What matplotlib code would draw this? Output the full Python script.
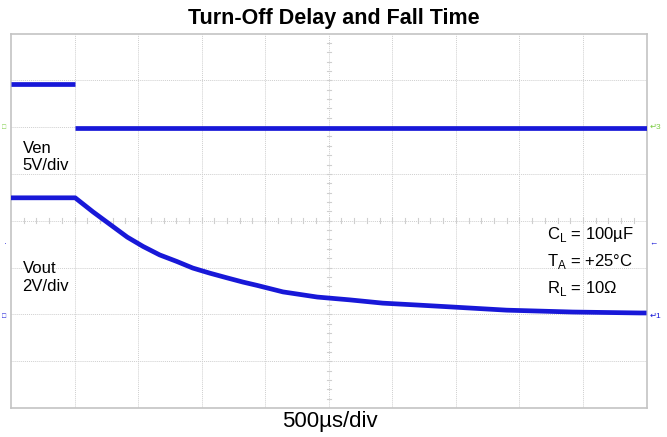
import numpy as np
import matplotlib.pyplot as plt

plt.rcParams['font.family'] = ['Liberation Sans', 'DejaVu Sans']

# screen positions in divisions (x: 500us/div, y: 8 divisions)
ven_x = [0.0, 1.0, np.nan, 1.0, 10.0]
ven_y = [6.92, 6.92, np.nan, 5.99, 5.99]

vout_x = [0.0, 1.01, 1.29, 1.56, 1.83, 2.08, 2.34, 2.61, 2.86, 3.13, 3.40,
          3.65, 3.87, 4.28, 4.82, 5.33, 5.85, 6.39, 6.91, 7.80, 8.84, 9.90, 10.0]
vout_y = [4.49, 4.49, 4.19, 3.92, 3.65, 3.45, 3.27, 3.13, 2.99, 2.88, 2.78,
          2.69, 2.62, 2.48, 2.37, 2.31, 2.24, 2.20, 2.16, 2.09, 2.05, 2.03, 2.03]

trace = '#1818d8'
gridc = '#cfcfcf'

fig = plt.figure(figsize=(6.67, 4.37), dpi=100)
ax = fig.add_axes([11 / 667, 29 / 437, 635.5 / 667, 374.5 / 437])
ax.set_xlim(0, 10)
ax.set_ylim(0, 8)

# grid
for i in range(1, 10):
    ax.axvline(i, color=gridc, lw=0.7, ls=(0, (1, 1)), zorder=1)
for j in range(1, 8):
    ax.axhline(j, color=gridc, lw=0.7, ls=(0, (1, 1)), zorder=1)
# centre ticks
for k in np.arange(0.2, 10, 0.2):
    ax.plot([k, k], [3.95, 4.05], color=gridc, lw=0.8, zorder=1)
for k in np.arange(0.2, 8, 0.2):
    ax.plot([4.97, 5.03], [k, k], color=gridc, lw=0.8, zorder=1)

for s in ax.spines.values():
    s.set_color('#c4c4c4')
    s.set_linewidth(1.2)
ax.set_xticks([])
ax.set_yticks([])

ax.plot(ven_x, ven_y, color=trace, lw=3.4, solid_capstyle='butt', zorder=3)
ax.plot(vout_x, vout_y, color=trace, lw=3.4, solid_capstyle='butt', solid_joinstyle='round', zorder=3)

ax.text(0.18, 5.36, 'Ven\n5V/div', fontsize=12, linespacing=1.2, va='center', ha='left')
ax.text(0.18, 2.78, 'Vout\n2V/div', fontsize=12, linespacing=1.25, va='center', ha='left')

ax.text(8.43, 3.70, r'C$_\mathregular{L}$ = 100µF', fontsize=12, va='center', ha='left')
ax.text(8.43, 3.12, r'T$_\mathregular{A}$ = +25°C', fontsize=12, va='center', ha='left')
ax.text(8.43, 2.56, r'R$_\mathregular{L}$ = 10Ω', fontsize=12, va='center', ha='left')

# channel markers
ax.text(10.05, 5.99, '\u21b53', color='#7ccc44', fontsize=6, va='center', ha='left', clip_on=False)
ax.text(10.05, 3.5, '\u2190', color=trace, fontsize=6, va='center', ha='left', clip_on=False)
ax.text(10.05, 1.95, '\u21b51', color=trace, fontsize=6, va='center', ha='left', clip_on=False)
ax.text(-0.07, 5.99, '\u25a1', color='#7ccc44', fontsize=5, va='center', ha='right', clip_on=False)
ax.text(-0.07, 3.5, '\u00b7', color=trace, fontsize=6, va='center', ha='right', clip_on=False)
ax.text(-0.07, 1.95, '\u25a1', color=trace, fontsize=5, va='center', ha='right', clip_on=False)

fig.text(0.5, 0.958, 'Turn-Off Delay and Fall Time', fontsize=15.5, fontweight='bold',
         ha='center', va='center')
fig.text(0.495, 0.035, '500µs/div', fontsize=16, ha='center', va='center')

fig.savefig('out.png', dpi=100)
